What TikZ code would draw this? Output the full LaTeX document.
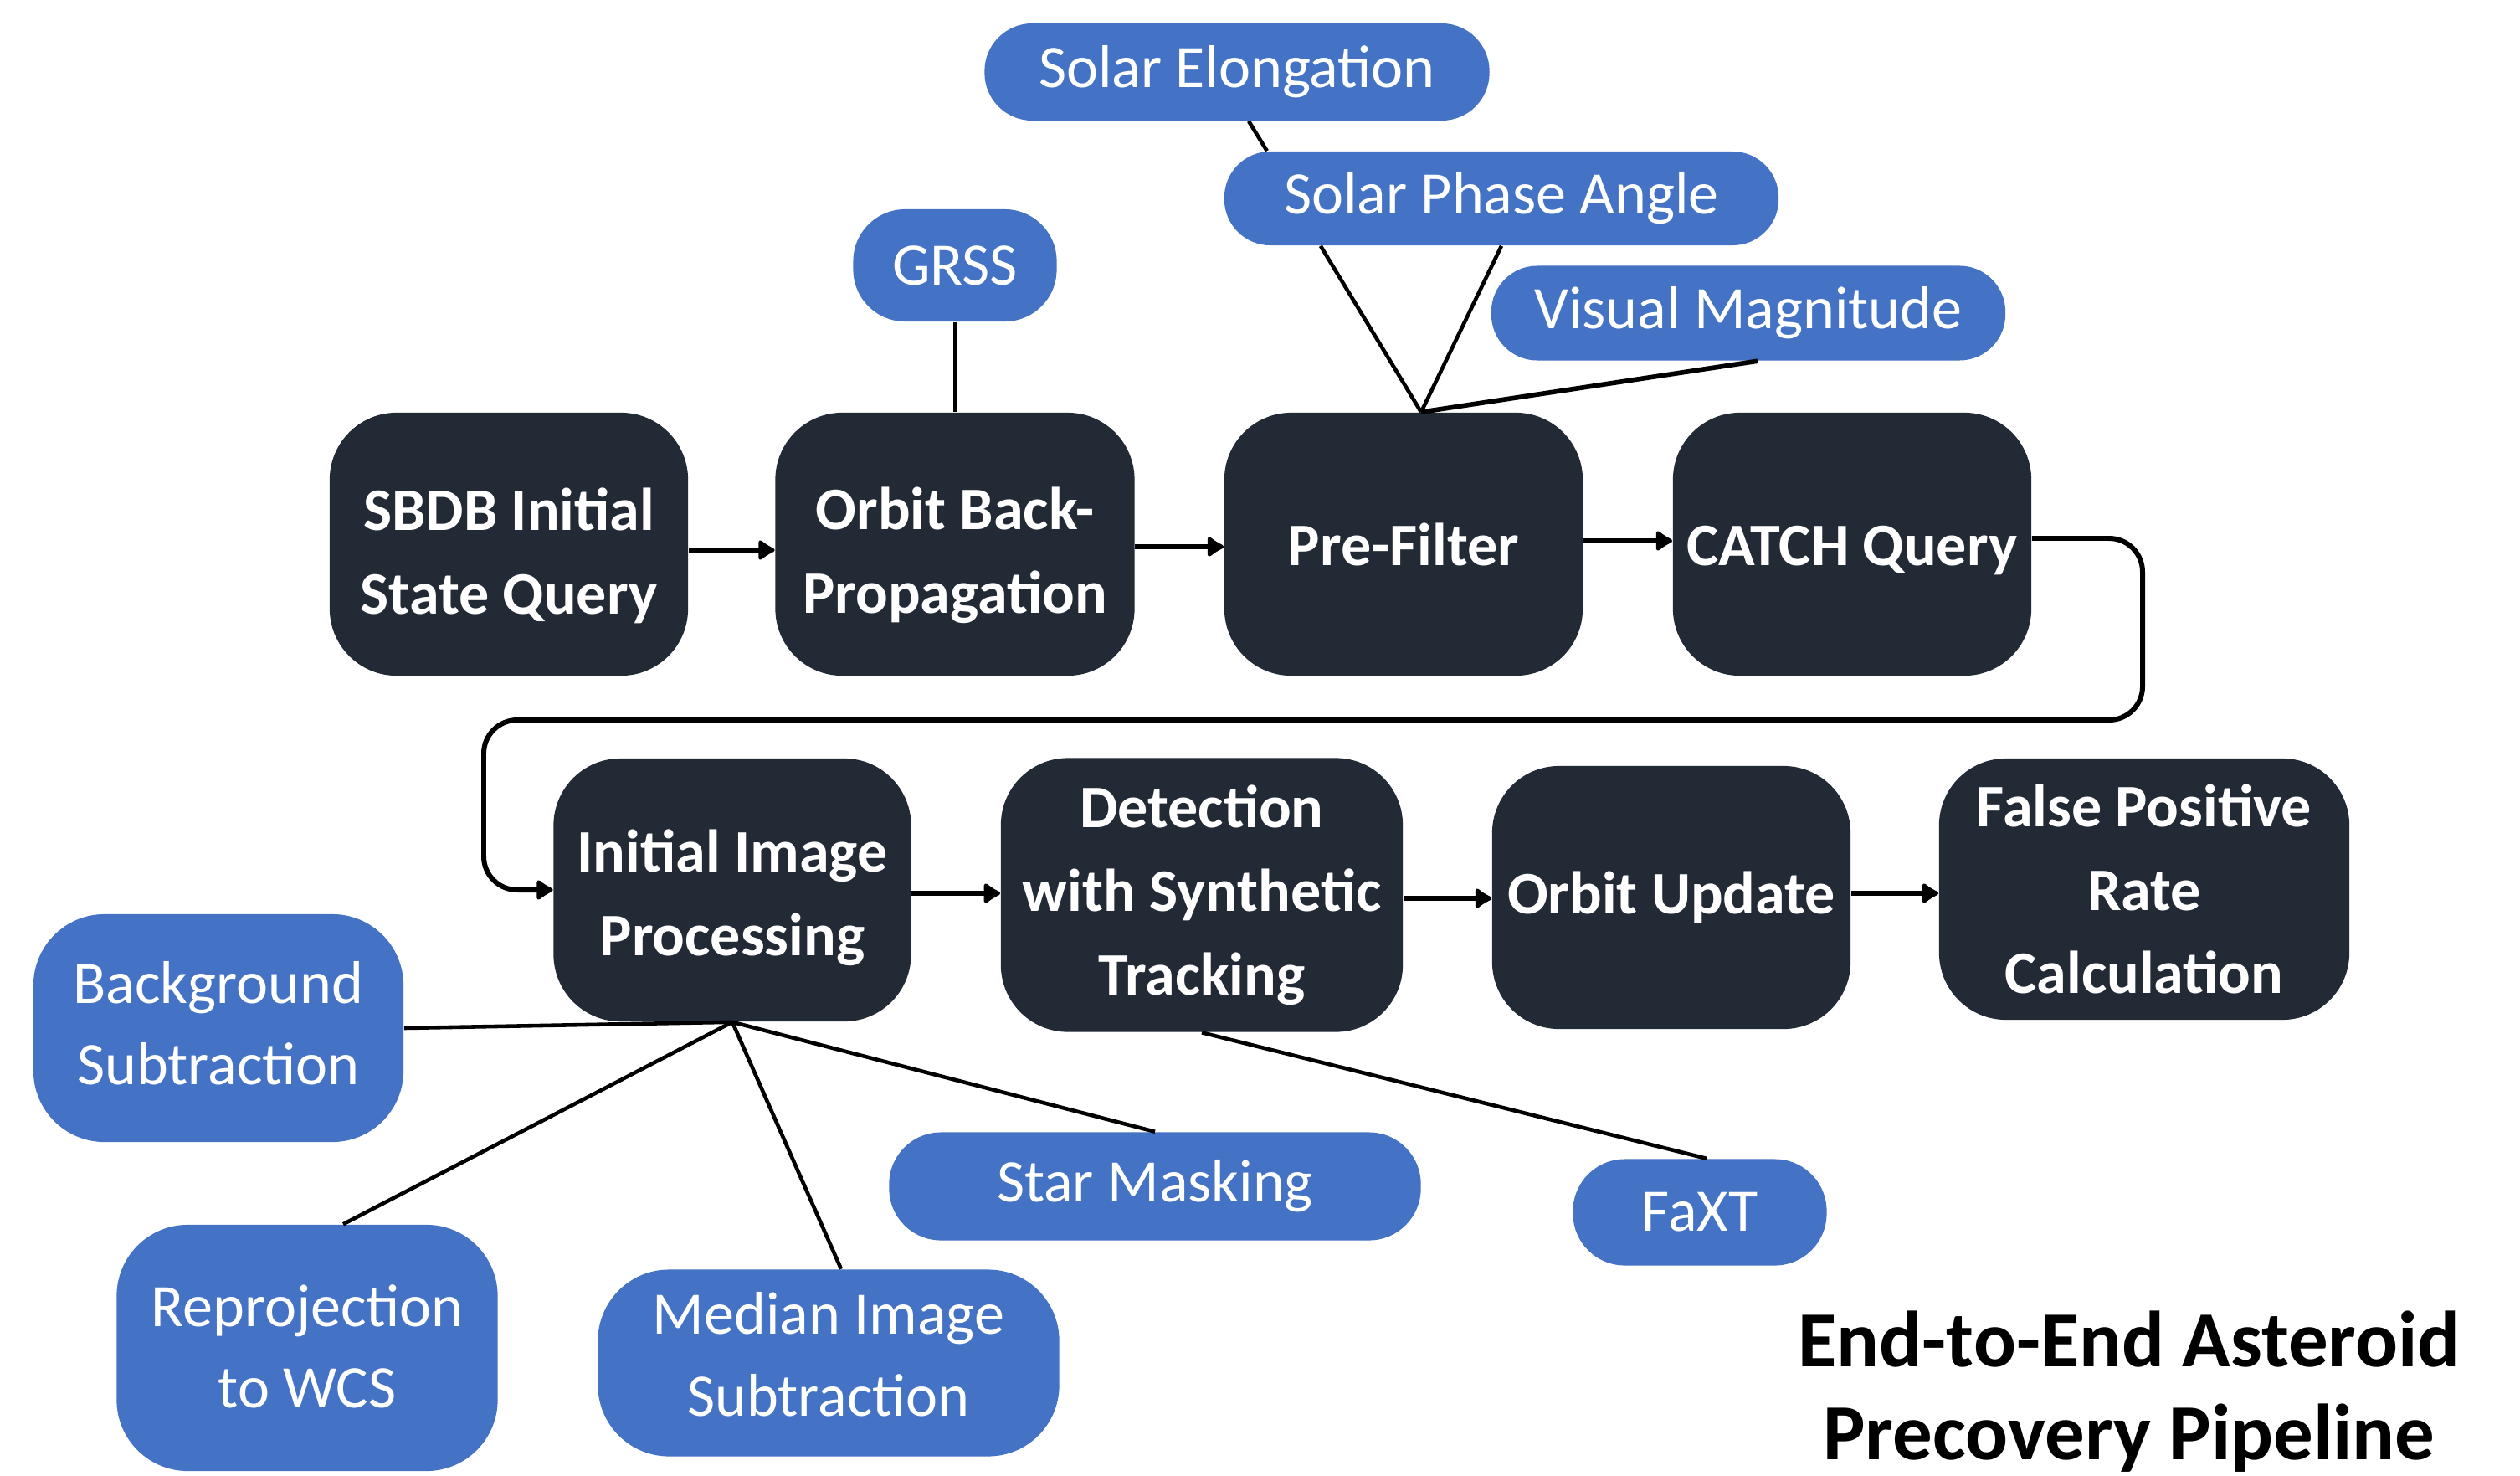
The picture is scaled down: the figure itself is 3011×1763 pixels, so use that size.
\documentclass[tikz,border=0pt]{standalone}
\usepackage{fontspec}
\setmainfont{Carlito}
\usetikzlibrary{arrows.meta}
\definecolor{darkbox}{HTML}{222A35}
\definecolor{bluebox}{HTML}{4472C4}
\newcommand{\lowertext}[1]{\rule{0pt}{#1}}
\newcommand{\raisetext}[1]{\rule[-#1]{0pt}{0pt}}
\tikzset{
  dbox/.style={fill=darkbox, text=white, font=\bfseries\fontsize{20.5}{28.4}\selectfont,
    align=center, inner sep=0pt, rounded corners=0.8cm},
  bbox/.style={fill=bluebox, text=white, font=\fontsize{20.5}{27.8}\selectfont,
    align=center, inner sep=0pt},
  flow/.style={line width=1.7pt, -{Latex[length=6.5pt,width=8.5pt,round]}},
  link/.style={line width=1.3pt},
}
\begin{document}
\begin{tikzpicture}[x=0.01cm, y=-0.01cm]
\useasboundingbox (0,0) rectangle (3011,1763);
% main pipeline
\node[dbox, minimum width=4.28cm, minimum height=3.14cm] (sbdb) at (608,650) {\lowertext{0.78cm}SBDB Initial\\State Query};
\node[dbox, minimum width=4.29cm, minimum height=3.14cm] (orbit) at (1141,650) {\lowertext{0.78cm}Orbit Back-\\Propagation};
\node[dbox, minimum width=4.28cm, minimum height=3.14cm] (pre) at (1677,650) {Pre-Filter};
\node[dbox, minimum width=4.28cm, minimum height=3.14cm] (catch) at (2213,650) {\lowertext{0.62cm}CATCH Query};
\node[dbox, minimum width=4.27cm, minimum height=3.14cm] (init) at (875,1063) {\lowertext{0.70cm}Initial Image\\Processing};
\node[dbox, minimum width=4.80cm, minimum height=3.27cm] (det) at (1436,1069) {Detection\\with Synthetic\\Tracking};
\node[dbox, minimum width=4.28cm, minimum height=3.14cm] (oupd) at (1997,1072) {Orbit Update};
\node[dbox, minimum width=4.90cm, minimum height=3.12cm] (fpr) at (2562,1062) {False Positive\\Rate\\Calculation};
% blue nodes
\node[bbox, rounded corners=0.57cm, minimum width=6.03cm, minimum height=1.16cm] (solel) at (1478,86) {Solar Elongation};
\node[bbox, rounded corners=0.55cm, minimum width=6.62cm, minimum height=1.12cm] (solpa) at (1794,237) {Solar Phase Angle};
\node[bbox, rounded corners=0.55cm, minimum width=6.14cm, minimum height=1.13cm] (vismag) at (2089,374) {Visual Magnitude};
\node[bbox, rounded corners=0.62cm, minimum width=2.43cm, minimum height=1.34cm] (grss) at (1141,317) {GRSS};
\node[bbox, rounded corners=0.85cm, minimum width=4.42cm, minimum height=2.72cm] (bgsub) at (261,1228) {Background\\Subtraction\raisetext{0.12cm}};
\node[bbox, rounded corners=0.85cm, minimum width=4.55cm, minimum height=2.94cm] (reproj) at (367,1610) {Reprojection\\to WCS\raisetext{0.04cm}};
\node[bbox, rounded corners=0.85cm, minimum width=5.51cm, minimum height=2.23cm] (median) at (990,1628) {Median Image\\Subtraction\raisetext{0.21cm}};
\node[bbox, rounded corners=0.62cm, minimum width=6.35cm, minimum height=1.29cm] (star) at (1380,1417) {Star Masking};
\node[bbox, rounded corners=0.62cm, minimum width=3.03cm, minimum height=1.27cm] (faxt) at (2031,1448) {FaXT};
% title
\node[font=\bfseries\fontsize{27}{31.5}\selectfont, align=center] (title) at (2544,1662) {End-to-End Asteroid\\Precovery Pipeline};
% flow arrows
\coordinate (a1) at (sbdb.east |- 0,657);
\draw[flow] (a1) -- (a1 -| orbit.west);
\draw[flow] (orbit.east |- 0,653) -- (pre.west |- 0,653);
\draw[flow] (pre.east |- 0,646) -- (catch.west |- 0,646);
\coordinate (l0) at (catch.east |- 0,643);
\coordinate (l1) at (2560,643);
\coordinate (l2) at (2560,860);
\coordinate (l3) at (578,860);
\coordinate (l4) at (578,1063);
\draw[flow, rounded corners=0.4cm] (l0) -- (l1) -- (l2) -- (l3) -- (l4) -- (init.west);
\draw[flow] (init.east |- 0,1067) -- (det.west |- 0,1067);
\draw[flow] (det.east |- 0,1073) -- (oupd.west |- 0,1073);
\draw[flow] (oupd.east |- 0,1067) -- (fpr.west |- 0,1067);
% links
\draw[link] (grss.south) -- (orbit.north);
\draw[link] ([xshift=0.14cm]solel.south) -- ([xshift=-2.8cm]solpa.north);
\coordinate (hub) at ([xshift=0.21cm]pre.north);
\draw[link] (hub) -- ([xshift=-2.16cm]solpa.south);
\draw[link] (hub) -- (solpa.south);
\draw[link, line width=1.6pt] (hub) -- ([xshift=0.11cm]vismag.south);
\draw[link] (init.south) -- (bgsub.east);
\draw[link] (init.south) -- ([xshift=0.43cm]reproj.north);
\draw[link] (init.south) -- ([xshift=0.15cm]median.north);
\draw[link] (init.south) -- (star.north);
\draw[link] (det.south) -- ([xshift=0.08cm]faxt.north);
\end{tikzpicture}
\end{document}
